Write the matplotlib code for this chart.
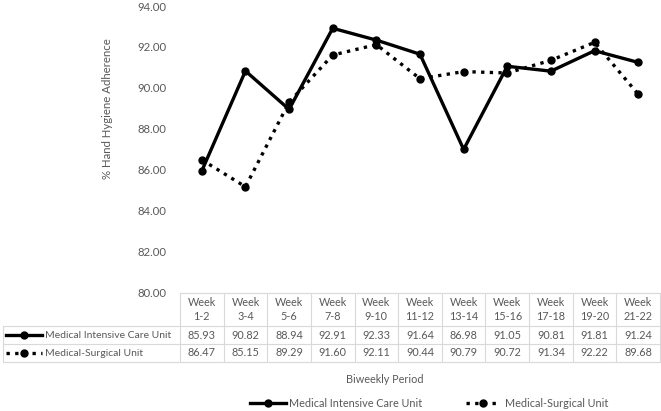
import numpy as np
import matplotlib.pyplot as plt
from matplotlib.lines import Line2D

plt.rcParams['font.family'] = ['Lato', 'DejaVu Sans']

# ========== 数据 ==========
periods = ['Week\n1-2', 'Week\n3-4', 'Week\n5-6', 'Week\n7-8', 'Week\n9-10', 'Week\n11-12',
           'Week\n13-14', 'Week\n15-16', 'Week\n17-18', 'Week\n19-20', 'Week\n21-22']
micu = [85.93, 90.82, 88.94, 92.91, 92.33, 91.64, 86.98, 91.05, 90.81, 91.81, 91.24]
msu = [86.47, 85.15, 89.29, 91.60, 92.11, 90.44, 90.79, 90.72, 91.34, 92.22, 89.68]
series_names = ['Medical Intensive Care Unit', 'Medical-Surgical Unit']
y_ticks = [80, 82, 84, 86, 88, 90, 92, 94]

W, H = 661, 411
txt = '#595959'
grid = '#d9d9d9'
fs = 7.8

fig = plt.figure(figsize=(W / 100, H / 100), dpi=100)


def fx(x):
    return x / W


def fy(y):
    return 1 - y / H


# 绘图区
x0, x1, ytop, ybot = 180, 660, 6, 292
ax = fig.add_axes([fx(x0), fy(ybot), fx(x1) - fx(x0), fy(ytop) - fy(ybot)])
xs = np.arange(len(periods))
ax.plot(xs, micu, color='black', lw=2.4, marker='o', ms=5, solid_capstyle='round')
ax.plot(xs, msu, color='black', lw=2.4, ls=(0, (1, 1.6)), marker='o', ms=5)
ax.set_xlim(-0.5, len(periods) - 0.5)
ax.set_ylim(80, 94)
ax.set_yticks(y_ticks)
ax.set_yticklabels([f'{v:.2f}' for v in y_ticks])
ax.set_xticks([])
ax.tick_params(axis='y', length=0, pad=9.5, labelsize=fs + 0.4, labelcolor=txt)
for s in ax.spines.values():
    s.set_visible(False)
fig.text(fx(108), fy(109), '% Hand Hygiene Adherence', rotation=90, ha='center', va='center',
         fontsize=8.2, color=txt)

# ========== 数据表 ==========
col_w = (x1 - x0) / len(periods)
r_head, r1, r2, r3 = 293, 326, 344, 362
tkw = dict(transform=fig.transFigure, color=grid, lw=0.8)
fig.add_artist(Line2D([fx(x0), fx(x1)], [fy(r_head)] * 2, **tkw))
for r in (r1, r2, r3):
    fig.add_artist(Line2D([fx(3), fx(x1)], [fy(r)] * 2, **tkw))
fig.add_artist(Line2D([fx(3)] * 2, [fy(r1), fy(r3)], **tkw))
for i in range(len(periods) + 1):
    xx = x0 + i * col_w
    fig.add_artist(Line2D([fx(xx)] * 2, [fy(r_head), fy(r3)], **tkw))

for i, p in enumerate(periods):
    cx = x0 + (i + 0.5) * col_w
    fig.text(fx(cx), fy((r_head + r1) / 2), p, ha='center', va='center', fontsize=fs,
             color=txt, linespacing=1.25)
    fig.text(fx(cx), fy((r1 + r2) / 2), f'{micu[i]:.2f}', ha='center', va='center',
             fontsize=fs, color=txt)
    fig.text(fx(cx), fy((r2 + r3) / 2), f'{msu[i]:.2f}', ha='center', va='center',
             fontsize=fs, color=txt)


def key(xa, xb, y, dotted):
    ls = (0, (1, 1.6)) if dotted else '-'
    fig.add_artist(Line2D([fx(xa), fx(xb)], [fy(y)] * 2, transform=fig.transFigure,
                          color='black', lw=2.4, ls=ls))
    fig.add_artist(Line2D([fx((xa + xb) / 2)], [fy(y)], transform=fig.transFigure,
                          color='black', marker='o', ms=5, ls='none'))


key(6, 42, (r1 + r2) / 2, False)
key(6, 42, (r2 + r3) / 2, True)
fig.text(fx(45), fy((r1 + r2) / 2), series_names[0], ha='left', va='center', fontsize=7.5, color=txt)
fig.text(fx(45), fy((r2 + r3) / 2), series_names[1], ha='left', va='center', fontsize=7.5, color=txt)

fig.text(fx(385), fy(379), 'Biweekly Period', ha='center', va='center',
         fontsize=fs, color=txt)

# ========== 图例 ==========
key(250, 286, 403, False)
fig.text(fx(289), fy(403), series_names[0], ha='left', va='center', fontsize=fs, color=txt)
key(466, 500, 403, True)
fig.text(fx(505), fy(403), series_names[1], ha='left', va='center', fontsize=fs, color=txt)

fig.savefig('out.png', dpi=100)
